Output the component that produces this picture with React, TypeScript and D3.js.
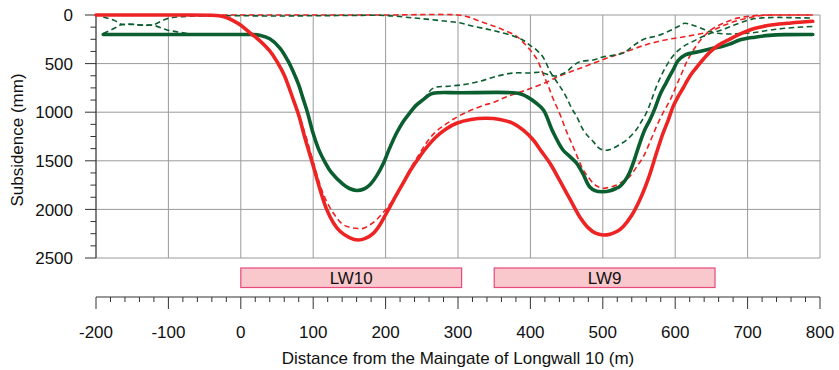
import React from "react";
import * as d3 from "d3";

// x: distance (m), y: subsidence (mm)
const predictedLW9: [number, number][] = [
  [-200, 0], [-100, 0], [-40, 2], [-30, 8], [-20, 25], [-10, 60], [0, 105], [12, 180], [25, 255], [40, 370],
  [50, 480], [60, 620], [72, 860], [80, 1030], [88, 1250], [100, 1550], [110, 1810], [118, 1990], [128, 2140],
  [137, 2225], [150, 2290], [162, 2315], [172, 2298], [183, 2246], [192, 2160], [201, 2040], [212, 1890],
  [224, 1732], [235, 1590], [247, 1458], [258, 1350], [270, 1252], [284, 1170], [298, 1114], [318, 1075],
  [339, 1063], [358, 1075], [376, 1114], [391, 1190], [404, 1286], [415, 1400], [427, 1526], [441, 1710],
  [455, 1900], [468, 2075], [480, 2190], [490, 2245], [500, 2263], [510, 2255], [520, 2225], [528, 2178],
  [540, 2060], [551, 1903], [563, 1680], [574, 1423], [583, 1220], [590, 1090], [597, 943], [604, 840],
  [611, 751], [617, 670], [623, 600], [630, 535], [640, 445], [649, 374], [660, 310], [675, 250], [690, 195],
  [704, 151], [720, 120], [735, 100], [760, 82], [790, 65],
];

const measuredLW9: [number, number][] = [
  [-190, 200], [-100, 200], [0, 200], [15, 201], [26, 208], [40, 245], [54, 340], [65, 470], [72, 575],
  [80, 720], [86, 860], [92, 1000], [100, 1220], [108, 1390], [116, 1510], [125, 1620], [141, 1740],
  [150, 1785], [160, 1805], [170, 1790], [178, 1749], [188, 1650], [197, 1526], [205, 1380], [215, 1217],
  [224, 1100], [233, 1011], [242, 930], [252, 870], [262, 815], [272, 800], [302, 800], [376, 800],
  [388, 815], [395, 840], [407, 900], [418, 977], [431, 1200], [445, 1389], [455, 1460], [464, 1526],
  [473, 1640], [482, 1770], [490, 1810], [500, 1818], [510, 1808], [518, 1785], [524, 1760], [531, 1700],
  [537, 1620], [544, 1480], [551, 1320], [558, 1180], [565, 1080], [572, 960], [579, 820], [588, 690],
  [597, 566], [604, 470], [614, 410], [635, 374], [652, 343], [662, 330], [675, 300], [690, 255],
  [710, 228], [730, 210], [750, 202], [790, 200],
];

const predictedLW10: [number, number][] = [
  [-200, 0], [-100, 0], [-40, 1], [-20, 22], [0, 100], [12, 175], [25, 250], [40, 360], [50, 470],
  [60, 600], [72, 850], [80, 1020], [90, 1250], [100, 1510], [110, 1760], [118, 1910], [128, 2040],
  [140, 2150], [151, 2185], [162, 2197], [169, 2195], [178, 2160], [187, 2109], [198, 2020], [210, 1903],
  [222, 1750], [233, 1595], [245, 1450], [256, 1320], [268, 1210], [280, 1140], [291, 1085], [302, 1035],
  [335, 930], [349, 900], [367, 840], [395, 770], [427, 675], [436, 640], [468, 550], [505, 445],
  [533, 375], [560, 305], [588, 254], [616, 219], [649, 168], [666, 110], [685, 60], [704, 25],
  [720, 5], [740, 0], [790, 0],
];

const predictedIncLW9: [number, number][] = [
  [-200, 0], [0, 0], [200, 0], [300, 0], [315, 22], [330, 65], [346, 105], [362, 151], [381, 219],
  [395, 322], [408, 442], [418, 614], [424, 717], [431, 854], [441, 1025], [450, 1200], [459, 1355],
  [466, 1480], [473, 1595], [480, 1670], [487, 1732], [493, 1765], [500, 1783], [510, 1770], [519, 1749],
  [528, 1710], [537, 1663], [546, 1570], [556, 1458], [565, 1310], [574, 1149], [583, 1010], [593, 875],
  [602, 720], [611, 566], [616, 480], [627, 340], [639, 223], [652, 140], [666, 86], [682, 40],
  [698, 17], [717, 3], [735, 0], [790, 0],
];

const measuredIncLW9: [number, number][] = [
  [-190, 190], [-174, 134], [-165, 100], [-150, 95], [-137, 104], [-121, 100], [-103, 41], [-87, 20],
  [-70, 12], [-40, 8], [0, 8], [50, 10], [100, 8], [150, 5], [200, 5], [238, 30], [260, 45], [284, 65],
  [302, 80], [321, 116], [340, 145], [353, 168], [376, 215], [390, 260], [399, 309], [408, 357],
  [418, 440], [427, 579], [436, 682], [443, 760], [450, 850], [457, 960], [464, 1046], [473, 1183],
  [480, 1250], [487, 1303], [493, 1360], [500, 1389], [507, 1390], [514, 1372], [524, 1330], [533, 1286],
  [546, 1183], [553, 1100], [560, 1011], [567, 880], [574, 737], [581, 620], [588, 520], [595, 440],
  [602, 380], [612, 320], [624, 274], [639, 219], [652, 180], [662, 160], [676, 120], [690, 80],
  [705, 45], [720, 30], [740, 25], [765, 28], [790, 32],
];

const measuredLW10: [number, number][] = [
  [-190, 20], [-174, 58], [-165, 95], [-150, 97], [-137, 104], [-121, 106], [-103, 151], [-87, 175],
  [-70, 193], [-50, 200], [0, 200], [15, 201], [26, 208], [40, 245], [54, 340], [65, 470], [72, 575],
  [80, 720], [86, 860], [92, 1000], [100, 1220], [108, 1390], [116, 1510], [125, 1620], [141, 1740],
  [150, 1785], [160, 1805], [170, 1790], [178, 1749], [188, 1650], [197, 1526], [205, 1380], [215, 1217],
  [224, 1100], [233, 1011], [242, 930], [252, 870], [266, 751], [284, 734], [307, 717], [330, 682],
  [353, 631], [376, 597], [399, 597], [413, 590], [425, 615], [434, 628], [442, 612], [450, 583],
  [458, 530], [468, 480], [487, 463], [500, 432], [519, 410], [530, 385], [540, 330], [550, 275],
  [560, 240], [575, 215], [593, 160], [605, 115], [613, 85], [622, 100], [634, 130], [652, 180],
  [670, 195], [690, 192], [710, 180], [731, 155], [754, 135], [790, 118],
];

const panels = [
  { name: "LW10", start: 0, end: 305 },
  { name: "LW9", start: 350, end: 655 },
];

const xTicks = [-200, -100, 0, 100, 200, 300, 400, 500, 600, 700, 800];
const yTicks = [0, 500, 1000, 1500, 2000, 2500];

const RED = "#ee2424";
const GREEN = "#0b5e2f";

export default function App() {
  const W = 839, H = 370;
  const x = d3.scaleLinear().domain([-200, 800]).range([96, 820]);
  const y = d3.scaleLinear().domain([0, 2500]).range([15, 258]);
  const line = d3
    .line<[number, number]>()
    .x((d) => x(d[0]))
    .y((d) => y(d[1]))
    .curve(d3.curveCatmullRom.alpha(0.5));

  const minorY = d3.range(0, 2501, 125).filter((v) => v % 500 !== 0);
  const minorX = d3.range(-200, 801, 20).filter((v) => v % 100 !== 0);
  const axisY = 297;
  const font = "Arial, 'Liberation Sans', sans-serif";

  return (
    <svg width={W} height={H} style={{ position: "absolute", left: 0, top: 0 }} fontFamily={font}>
      <rect x={0} y={0} width={W} height={H} fill="#fff" />
      {/* grid */}
      {xTicks.map((t) => (
        <line key={"gx" + t} x1={x(t)} x2={x(t)} y1={y(0)} y2={y(2500)} stroke="#9a9a9a" strokeWidth={1} />
      ))}
      {yTicks.map((t) => (
        <line key={"gy" + t} x1={x(-200)} x2={x(800)} y1={y(t)} y2={y(t)} stroke="#9a9a9a" strokeWidth={1} />
      ))}
      {/* left axis */}
      <line x1={x(-200)} x2={x(-200)} y1={y(0)} y2={y(2500)} stroke="#333" strokeWidth={1} />
      {yTicks.map((t) => (
        <line key={"ty" + t} x1={85} x2={x(-200)} y1={y(t)} y2={y(t)} stroke="#333" strokeWidth={1} />
      ))}
      {minorY.map((t) => (
        <line key={"my" + t} x1={90.5} x2={x(-200)} y1={y(t)} y2={y(t)} stroke="#333" strokeWidth={1} />
      ))}
      {yTicks.map((t) => (
        <text key={"ly" + t} x={73} y={y(t)} dy="0.36em" textAnchor="end" fontSize={17} fill="#111">
          {t}
        </text>
      ))}
      <text
        transform={`translate(23, 140) rotate(-90)`}
        textAnchor="middle"
        fontSize={17}
        fill="#111"
      >
        Subsidence (mm)
      </text>

      {/* series: dashed first */}
      {[predictedLW10, predictedIncLW9].map((s, i) => (
        <path key={"rd" + i} d={line(s) || ""} fill="none" stroke={RED} strokeWidth={1.6} strokeDasharray="5.5,3.5" />
      ))}
      {[measuredLW10, measuredIncLW9].map((s, i) => (
        <path key={"gd" + i} d={line(s) || ""} fill="none" stroke={GREEN} strokeWidth={1.6} strokeDasharray="5.5,3.5" />
      ))}
      <path d={line(measuredLW9) || ""} fill="none" stroke={GREEN} strokeWidth={3.6} strokeLinejoin="round" strokeLinecap="round" />
      <path d={line(predictedLW9) || ""} fill="none" stroke={RED} strokeWidth={3.6} strokeLinejoin="round" strokeLinecap="round" />

      {/* panels */}
      {panels.map((p) => (
        <g key={p.name}>
          <rect
            x={x(p.start)}
            y={268}
            width={x(p.end) - x(p.start)}
            height={19.5}
            fill="#f9c8cc"
            stroke="#e6497c"
            strokeWidth={1.2}
          />
          <text x={(x(p.start) + x(p.end)) / 2} y={277.8} dy="0.36em" textAnchor="middle" fontSize={17} fill="#111">
            {p.name}
          </text>
        </g>
      ))}

      {/* bottom axis */}
      <line x1={x(-200)} x2={x(800)} y1={axisY} y2={axisY} stroke="#333" strokeWidth={1} />
      {xTicks.map((t) => (
        <line key={"tx" + t} x1={x(t)} x2={x(t)} y1={axisY} y2={axisY + 12} stroke="#333" strokeWidth={1} />
      ))}
      {minorX.map((t) => (
        <line key={"mx" + t} x1={x(t)} x2={x(t)} y1={axisY} y2={axisY + 5} stroke="#333" strokeWidth={1} />
      ))}
      {xTicks.map((t) => (
        <text key={"lx" + t} x={x(t)} y={338} textAnchor="middle" fontSize={17} fill="#111">
          {t}
        </text>
      ))}
      <text x={(x(-200) + x(800)) / 2} y={364} textAnchor="middle" fontSize={17} fill="#111">
        Distance from the Maingate of Longwall 10 (m)
      </text>
    </svg>
  );
}
